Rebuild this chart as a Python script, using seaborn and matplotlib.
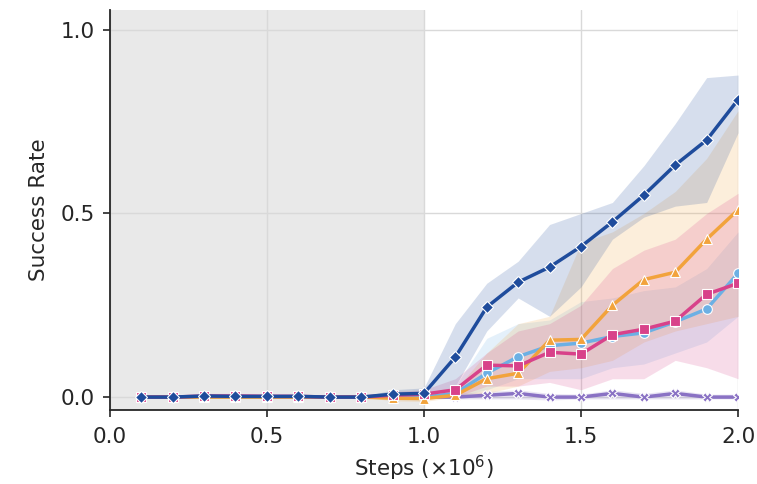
import numpy as np
import pandas as pd
import matplotlib
matplotlib.use("Agg")
import matplotlib.pyplot as plt
import seaborn as sns

steps = [0.1, 0.2, 0.3, 0.4, 0.5, 0.6, 0.7, 0.8, 0.9, 1.0,
         1.1, 1.2, 1.3, 1.4, 1.5, 1.6, 1.7, 1.8, 1.9, 2.0]

methods = ["Ours", "Method B", "Method C", "Method D", "Method E"]

# mean success rate per method
mean_ours = [0.0, 0.0, 0.003, 0.002, 0.002, 0.002, 0.0, 0.0, 0.008, 0.01,
             0.109, 0.245, 0.313, 0.354, 0.41, 0.477, 0.55, 0.632, 0.70, 0.81]
mean_b = [0.0, 0.0, 0.0, 0.0, 0.0, 0.0, 0.0, 0.0, -0.003, -0.004,
          0.005, 0.05, 0.065, 0.155, 0.157, 0.25, 0.32, 0.34, 0.43, 0.51]
mean_c = [0.0, 0.0, 0.0, 0.0, 0.0, 0.0, 0.0, 0.0, 0.0, 0.0,
          0.01, 0.065, 0.11, 0.14, 0.147, 0.165, 0.175, 0.205, 0.24, 0.337]
mean_d = [0.0, 0.0, 0.003, 0.003, 0.002, 0.002, 0.0, 0.0, 0.005, 0.008,
          0.02, 0.087, 0.085, 0.122, 0.117, 0.17, 0.185, 0.207, 0.28, 0.31]
mean_e = [0.0, 0.0, 0.0, 0.0, 0.0, 0.0, 0.0, 0.0, 0.0, 0.0,
          0.0, 0.005, 0.01, 0.0, 0.0, 0.01, 0.0, 0.01, 0.0, 0.0]

# confidence band bounds per method
lo_ours = [0.0, 0.0, 0.0, 0.0, 0.0, 0.0, 0.0, 0.0, 0.0, 0.0,
           0.03, 0.18, 0.27, 0.22, 0.3, 0.43, 0.49, 0.52, 0.53, 0.72]
hi_ours = [0.0, 0.0, 0.008, 0.006, 0.006, 0.006, 0.0, 0.0, 0.02, 0.025,
           0.2, 0.31, 0.37, 0.47, 0.5, 0.53, 0.63, 0.745, 0.87, 0.877]
lo_b = [0.0, 0.0, 0.0, 0.0, 0.0, 0.0, 0.0, 0.0, -0.01, -0.012,
        0.0, 0.01, 0.03, 0.07, 0.08, 0.1, 0.15, 0.18, 0.2, 0.22]
hi_b = [0.0, 0.0, 0.0, 0.0, 0.0, 0.0, 0.0, 0.0, 0.0, 0.0,
        0.02, 0.12, 0.2, 0.22, 0.42, 0.45, 0.5, 0.56, 0.65, 0.78]
lo_c = [0.0, 0.0, 0.0, 0.0, 0.0, 0.0, 0.0, 0.0, 0.0, 0.0,
        0.0, 0.02, 0.05, 0.05, 0.05, 0.08, 0.09, 0.12, 0.15, 0.22]
hi_c = [0.0, 0.0, 0.0, 0.0, 0.0, 0.0, 0.0, 0.0, 0.0, 0.0,
        0.03, 0.16, 0.2, 0.21, 0.26, 0.27, 0.29, 0.3, 0.35, 0.45]
lo_d = [0.0, 0.0, 0.0, 0.0, 0.0, 0.0, 0.0, 0.0, 0.0, 0.0,
        0.0, 0.03, 0.03, 0.04, 0.02, 0.05, 0.05, 0.1, 0.08, 0.05]
hi_d = [0.0, 0.0, 0.01, 0.01, 0.008, 0.008, 0.0, 0.0, 0.015, 0.02,
        0.05, 0.12, 0.18, 0.2, 0.25, 0.35, 0.4, 0.43, 0.5, 0.555]
lo_e = [0.0, 0.0, 0.0, 0.0, 0.0, 0.0, 0.0, 0.0, 0.0, 0.0,
        -0.005, -0.005, -0.005, -0.008, -0.005, -0.005, -0.005, -0.005, -0.005, -0.005]
hi_e = [0.0, 0.0, 0.0, 0.0, 0.0, 0.0, 0.0, 0.0, 0.0, 0.0,
        0.01, 0.015, 0.02, 0.01, 0.008, 0.02, 0.01, 0.02, 0.008, 0.008]

colors = {"Ours": "#1f4c9c", "Method B": "#f2a33c", "Method C": "#6cb0e4",
          "Method D": "#d8428a", "Method E": "#8a72c4"}
marker_map = {"Ours": "D", "Method B": "^", "Method C": "o",
              "Method D": "s", "Method E": "X"}

means = {"Ours": mean_ours, "Method B": mean_b, "Method C": mean_c,
         "Method D": mean_d, "Method E": mean_e}
bands = {"Ours": (lo_ours, hi_ours), "Method B": (lo_b, hi_b),
         "Method C": (lo_c, hi_c), "Method D": (lo_d, hi_d),
         "Method E": (lo_e, hi_e)}

df = pd.concat([pd.DataFrame({"Steps": steps, "Success": means[m], "Method": m})
                for m in methods], ignore_index=True)

sns.set_style("ticks")
plt.rcParams["font.family"] = ["DejaVu Sans"]

fig = plt.figure(figsize=(7.57, 4.84), dpi=100)
ax = fig.add_axes([0.145, 0.153, 0.830, 0.827])

# pre-training phase
ax.axvspan(0.0, 1.0, color="#e9e9e9", zorder=0, lw=0)

draw_order = ["Method E", "Method C", "Method B", "Method D", "Ours"]
for m in draw_order:
    lo, hi = bands[m]
    ax.fill_between(steps, lo, hi, color=colors[m], alpha=0.18, lw=0, zorder=1)

for i, m in enumerate(draw_order):
    sub = df[df["Method"] == m]
    sns.lineplot(data=sub, x="Steps", y="Success", ax=ax, color=colors[m],
                 marker=marker_map[m], markersize=7 if m != "Ours" else 6.5,
                 markeredgecolor="white", markeredgewidth=0.8,
                 linewidth=2.5, zorder=3 + i, legend=False)

ax.set_xlim(0.0, 2.0)
ax.set_ylim(-0.035, 1.055)
ax.set_xticks([0.0, 0.5, 1.0, 1.5, 2.0])
ax.set_yticks([0.0, 0.5, 1.0])
ax.grid(True, color="#d9d9d9", linewidth=1.0, zorder=0.5)
ax.set_axisbelow(True)
ax.set_xlabel("Steps ($\\times 10^6$)", fontsize=15.5, labelpad=5)
ax.set_ylabel("Success Rate", fontsize=15.5, labelpad=8)
ax.tick_params(labelsize=15.5, length=5, width=1.2)
ax.tick_params(axis="x", pad=7)
ax.tick_params(axis="y", pad=6)
for s in ["left", "bottom"]:
    ax.spines[s].set_linewidth(1.3)
sns.despine(ax=ax)

fig.savefig("out.png", dpi=100)
